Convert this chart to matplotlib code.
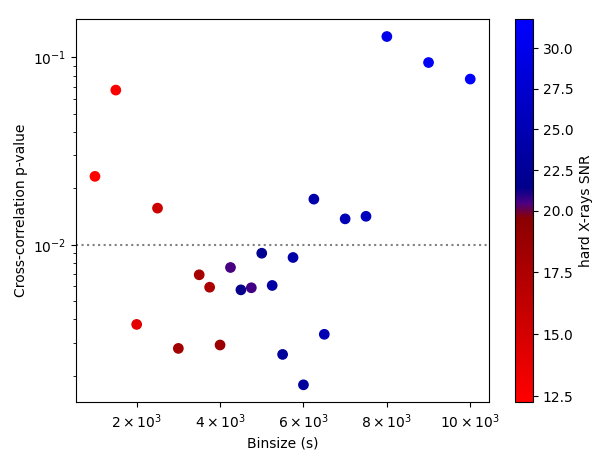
import numpy as np
import matplotlib
matplotlib.use('Agg')
import matplotlib.pyplot as plt
from matplotlib.colors import LinearSegmentedColormap, TwoSlopeNorm
from matplotlib.ticker import FuncFormatter

# Bin sizes (s), cross-correlation p-values and hard X-ray SNR per bin size
binsize = [1000, 1500, 2000, 2500, 3000, 3500, 3750, 4000, 4250, 4500, 4750, 5000,
           5250, 5500, 5750, 6000, 6250, 6500, 7000, 7500, 8000, 9000, 10000]
pvalue = [0.0232, 0.0670, 0.00376, 0.0157, 0.0028, 0.00692, 0.00594, 0.00292,
          0.00757, 0.00575, 0.00590, 0.00902, 0.00607, 0.00260, 0.00856, 0.00179,
          0.01754, 0.00333, 0.01376, 0.01420, 0.1294, 0.0940, 0.0767]
snr = [12.25, 12.6, 14.0, 15.5, 18.2, 18.0, 17.6, 18.6, 20.5, 21.3, 20.6, 22.0,
       23.6, 22.8, 24.0, 23.0, 24.2, 25.0, 25.2, 26.0, 30.0, 31.0, 31.8]
threshold = 0.01

cmap = LinearSegmentedColormap.from_list(
    'redblue', [(0.0, 'red'), (0.48, 'darkred'), (0.52, 'indigo'),
                (0.56, 'darkblue'), (1.0, 'blue')])
norm = TwoSlopeNorm(vmin=min(snr), vcenter=20, vmax=max(snr))

fig = plt.figure(figsize=(6, 4.55), dpi=100)
ax = fig.add_axes([0.127, 0.116, 0.688, 0.842])
cax = fig.add_axes([0.858, 0.116, 0.030, 0.842])

sc = ax.scatter(binsize, pvalue, c=snr, cmap=cmap, norm=norm, s=45)
ax.axhline(threshold, color='gray', ls=':')
ax.set_yscale('log')
ax.set_xticks([2000, 4000, 6000, 8000, 10000])
ax.xaxis.set_major_formatter(FuncFormatter(lambda v, p: r'$%d\times10^{3}$' % round(v / 1000)))
ax.set_xlabel('Binsize (s)')
ax.set_ylabel('Cross-correlation p-value')

cb = fig.colorbar(sc, cax=cax)
cb.set_ticks([12.5, 15, 17.5, 20, 22.5, 25, 27.5, 30])
cb.set_label('hard X-rays SNR')

plt.savefig('out.png')
